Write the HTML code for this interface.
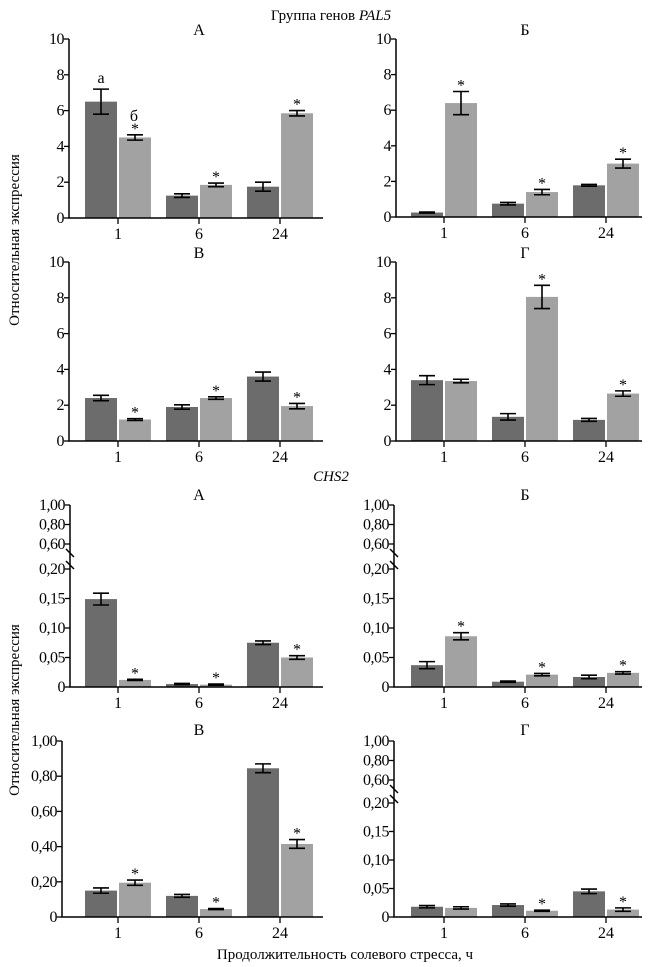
<!DOCTYPE html>
<html><head><meta charset="utf-8"><style>
html,body{margin:0;padding:0;background:#fff;}
svg{display:block;font-family:"Liberation Serif",serif;}
</style></head><body>
<svg id="fig" width="662" height="967" viewBox="0 0 662 967" xmlns="http://www.w3.org/2000/svg">
<text x="331" y="20" text-anchor="middle" font-size="15">Группа генов <tspan font-style="italic">PAL5</tspan></text>
<text x="331" y="481" text-anchor="middle" font-size="15" font-style="italic">CHS2</text>
<text transform="translate(19,240) rotate(-90)" text-anchor="middle" font-size="15">Относительная экспрессия</text>
<text transform="translate(19,710) rotate(-90)" text-anchor="middle" font-size="15">Относительная экспрессия</text>
<text x="345" y="959" text-anchor="middle" font-size="15">Продолжительность солевого стресса, ч</text>
</svg>
<script>
// ---- data ----
const categories = ["1", "6", "24"];
const palA_dark = [6.5, 1.25, 1.75];
const palA_darkErr = [0.7, 0.1, 0.25];
const palA_light = [4.5, 1.85, 5.85];
const palA_lightErr = [0.15, 0.1, 0.15];
const palB_dark = [0.25, 0.75, 1.78];
const palB_darkErr = [0.03, 0.07, 0.05];
const palB_light = [6.4, 1.4, 3.0];
const palB_lightErr = [0.65, 0.15, 0.25];
const palV_dark = [2.4, 1.9, 3.6];
const palV_darkErr = [0.15, 0.12, 0.25];
const palV_light = [1.2, 2.4, 1.95];
const palV_lightErr = [0.05, 0.07, 0.15];
const palG_dark = [3.4, 1.35, 1.18];
const palG_darkErr = [0.25, 0.18, 0.08];
const palG_light = [3.35, 8.05, 2.65];
const palG_lightErr = [0.1, 0.65, 0.15];
const chsA_dark = [0.149, 0.005, 0.075];
const chsA_darkErr = [0.01, 0.001, 0.003];
const chsA_light = [0.012, 0.004, 0.05];
const chsA_lightErr = [0.001, 0.001, 0.003];
const chsB_dark = [0.037, 0.009, 0.017];
const chsB_darkErr = [0.006, 0.001, 0.003];
const chsB_light = [0.086, 0.021, 0.024];
const chsB_lightErr = [0.006, 0.002, 0.002];
const chsV_dark = [0.15, 0.12, 0.845];
const chsV_darkErr = [0.015, 0.008, 0.025];
const chsV_light = [0.195, 0.045, 0.415];
const chsV_lightErr = [0.015, 0.003, 0.025];
const chsG_dark = [0.018, 0.021, 0.045];
const chsG_darkErr = [0.002, 0.002, 0.004];
const chsG_light = [0.016, 0.011, 0.013];
const chsG_lightErr = [0.002, 0.001, 0.003];
const palTicks = [0, 2, 4, 6, 8, 10];
const brokenLowTicks = [0, 0.05, 0.10, 0.15, 0.20];
const brokenHighTicks = [0.60, 0.80, 1.00];
const linearChsTicks = [0, 0.20, 0.40, 0.60, 0.80, 1.00];
const starsAll = [true, true, true];
const starsLast2 = [false, true, true];

const NS = "http://www.w3.org/2000/svg";
const svg = document.getElementById("fig");
function mk(tag, attrs, parent) {
  const e = document.createElementNS(NS, tag);
  for (const k in attrs) e.setAttribute(k, attrs[k]);
  (parent || svg).appendChild(e);
  return e;
}
function fmt(v, comma) {
  if (v === 0) return "0";
  return comma ? v.toFixed(2).replace(".", ",") : String(v);
}

function panel(cfg) {
  const g = mk("g", {});
  
  
  const yOf = cfg.yScale;
  const t = mk("text", {x: cfg.titleX, y: cfg.titleY, "text-anchor": "middle", "font-size": 16}, g);
  t.textContent = cfg.title;
  
  
  for (let i = 0; i < categories.length; i++) {
    const c = cfg.centers[i];
    [[cfg.dark, cfg.darkErr, c - 33, "#6c6c6c", "dark"], [cfg.light, cfg.lightErr, c + 1, "#a2a2a2", "light"]].forEach(s => {
      const v = s[0][i], e = s[1][i];
      const yTop = yOf(v), y0 = yOf(0);
      const r = mk("rect", {x: s[2], y: yTop, width: 32, height: Math.max(0.8, y0 - yTop), fill: s[3]}, g);
      
      
      const xm = s[2] + 16;
      const yh = yOf(v + e), yl = yOf(Math.max(0, v - e));
      const eb = mk("path", {d: `M${xm},${yh}V${yl}M${xm-8},${yh}H${xm+8}M${xm-8},${yl}H${xm+8}`, stroke: "#000", "stroke-width": 1.6, fill: "none"}, g);
      
      
      if (s[4] === "light" && cfg.stars[i]) {
        const st = mk("text", {x: xm, y: yh - 1, "text-anchor": "middle", "font-size": 16}, g);
        st.textContent = "*";
        
        
      }
    });
  }
  const y0 = yOf(0);
  const ax = mk("path", {d: `M${cfg.axisX},${yOf(cfg.yMax)}V${y0}H${cfg.axisEnd}`, stroke: "#000", "stroke-width": 1.5, fill: "none"}, g);
  
  
  if (cfg.broken) {
    const yb1 = yOf(0.6) + 9, yb2 = yOf(0.2) - 4;
    [yb1, yb2].forEach(yb => {
      const sl = mk("path", {d: `M${cfg.axisX-4},${yb-4}L${cfg.axisX+4},${yb+4}`, stroke: "#000", "stroke-width": 1.5}, g);
      
      
    });
  }
  cfg.ticks.forEach(tv => {
    const yy = yOf(tv);
    mk("path", {d: `M${cfg.axisX-5},${yy}H${cfg.axisX}`, stroke: "#000", "stroke-width": 1.3}, g);
    const tl = mk("text", {x: cfg.axisX - 5, y: yy + 5, "text-anchor": "end", "font-size": 16, "letter-spacing": "-0.5"}, g);
    tl.textContent = fmt(tv, cfg.comma);
    
    
  });
  categories.forEach((c, i) => {
    const x = cfg.centers[i];
    mk("path", {d: `M${x},${y0}V${y0+6}`, stroke: "#000", "stroke-width": 1.3}, g);
    const xl = mk("text", {x: x, y: y0 + 21, "text-anchor": "middle", "font-size": 16}, g);
    xl.textContent = c;
    
    
  });
  if (cfg.extra) cfg.extra(g, yOf);
}

function lin(y0, y1, max) { return v => y0 - (v / max) * (y0 - y1); }
function brk(y0, y02, y06, y1) {
  return v => v <= 0.2 ? y0 - (v / 0.2) * (y0 - y02) : (v < 0.6 ? y02 : y06 - (v - 0.6) / 0.4 * (y06 - y1));
}
const L = [118, 199, 280], R = [444, 525, 606];

panel({name: "panel-pal5-a", title: "А", titleX: 199, titleY: 35, dark: palA_dark, darkErr: palA_darkErr, light: palA_light, lightErr: palA_lightErr,
  stars: starsAll, centers: L, axisX: 69, axisEnd: 323, yScale: lin(218, 39, 10), yMax: 10, ticks: palTicks, comma: false,
  extra: (g, yOf) => {
    const a = mk("text", {x: 101, y: yOf(palA_dark[0] + palA_darkErr[0]) - 6, "text-anchor": "middle", "font-size": 16}, g);
    a.textContent = "а";
    
    
    const b = mk("text", {x: 134, y: yOf(palA_light[0] + palA_lightErr[0]) - 14, "text-anchor": "middle", "font-size": 16}, g);
    b.textContent = "б";
    
    
  }});
panel({name: "panel-pal5-b", title: "Б", titleX: 525, titleY: 35, dark: palB_dark, darkErr: palB_darkErr, light: palB_light, lightErr: palB_lightErr,
  stars: starsAll, centers: R, axisX: 396, axisEnd: 642, yScale: lin(217, 39, 10), yMax: 10, ticks: palTicks, comma: false});
panel({name: "panel-pal5-v", title: "В", titleX: 199, titleY: 258, dark: palV_dark, darkErr: palV_darkErr, light: palV_light, lightErr: palV_lightErr,
  stars: starsAll, centers: L, axisX: 69, axisEnd: 323, yScale: lin(441, 262, 10), yMax: 10, ticks: palTicks, comma: false});
panel({name: "panel-pal5-g", title: "Г", titleX: 525, titleY: 258, dark: palG_dark, darkErr: palG_darkErr, light: palG_light, lightErr: palG_lightErr,
  stars: starsLast2, centers: R, axisX: 396, axisEnd: 642, yScale: lin(441, 262, 10), yMax: 10, ticks: palTicks, comma: false});
panel({name: "panel-chs2-a", title: "А", titleX: 199, titleY: 500, dark: chsA_dark, darkErr: chsA_darkErr, light: chsA_light, lightErr: chsA_lightErr,
  stars: starsAll, centers: L, axisX: 70, axisEnd: 323, yScale: brk(687, 569, 544, 505), yMax: 1, ticks: brokenLowTicks.concat(brokenHighTicks), comma: true, broken: true});
panel({name: "panel-chs2-b", title: "Б", titleX: 525, titleY: 500, dark: chsB_dark, darkErr: chsB_darkErr, light: chsB_light, lightErr: chsB_lightErr,
  stars: starsAll, centers: R, axisX: 394, axisEnd: 642, yScale: brk(687, 569, 544, 505), yMax: 1, ticks: brokenLowTicks.concat(brokenHighTicks), comma: true, broken: true});
panel({name: "panel-chs2-v", title: "В", titleX: 199, titleY: 735, dark: chsV_dark, darkErr: chsV_darkErr, light: chsV_light, lightErr: chsV_lightErr,
  stars: starsAll, centers: L, axisX: 62, axisEnd: 323, yScale: lin(917, 741, 1), yMax: 1, ticks: linearChsTicks, comma: true});
panel({name: "panel-chs2-g", title: "Г", titleX: 525, titleY: 735, dark: chsG_dark, darkErr: chsG_darkErr, light: chsG_light, lightErr: chsG_lightErr,
  stars: starsLast2, centers: R, axisX: 394, axisEnd: 642, yScale: brk(917, 803, 780, 741), yMax: 1, ticks: brokenLowTicks.concat(brokenHighTicks), comma: true, broken: true});
</script>
</body></html>
